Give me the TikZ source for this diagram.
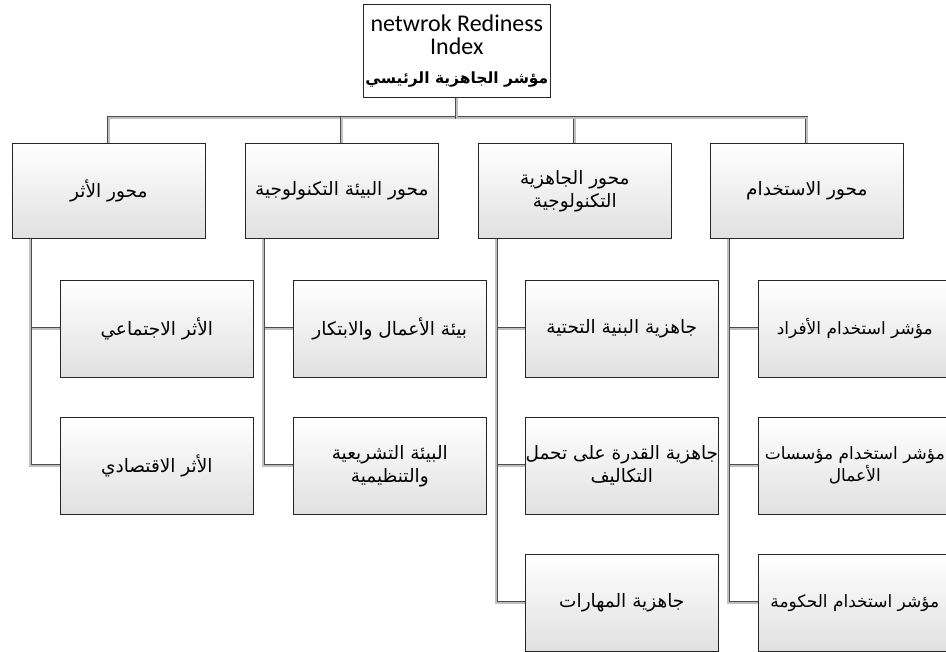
\documentclass[tikz,border=0pt]{standalone}
\usepackage{fontspec}
\newfontfamily\arabicfont[Script=Arabic]{DejaVu Sans}
\newfontfamily\latinfont{Carlito}
\TeXXeTstate=1
\newcommand{\artxt}[1]{{\arabicfont\beginR #1\endR}}

\tikzset{every picture/.style={line width=0.6pt}}
\tikzset{
  chartbox/.style={draw=black!85, anchor=north west, inner sep=0pt, align=center,
    minimum width=193pt, minimum height=97pt,
    top color=white, middle color=white, bottom color=black!12,
    font=\fontsize{18.5}{23}\selectfont},
  edgebox/.style={chartbox, font=\fontsize{17}{22}\selectfont},
  link/.style={draw=black!70, double=black!25, double distance=1.6pt, line width=0.7pt}
}

\begin{document}
\begin{tikzpicture}[x=1pt,y=1pt,yscale=-1,xscale=1]
\useasboundingbox (0,0) rectangle (946,652);
\clip (0,0) rectangle (946,652);

% Root Node
\node [draw=black!85, anchor=north west, inner sep=0pt, align=center, fill=white,
  minimum width=187pt, minimum height=93pt, font=\fontsize{24}{23}\selectfont] (root) at (363,4)
  {\latinfont netwrok Rediness\\ \latinfont Index\\[6pt] {\fontsize{15.5}{18}\selectfont\artxt{\bfseries مؤشر الجاهزية الرئيسي}}};

% Axis Nodes
\node [chartbox, minimum height=95pt] (axA) at (12,143) {\artxt{محور الأثر}};
\node [chartbox, minimum height=95pt] (axB) at (245,143) {\artxt{محور البيئة التكنولوجية}};
\node [chartbox, minimum height=95pt] (axC) at (478,143) {\artxt{محور الجاهزية}\\ \artxt{التكنولوجية}};
\node [chartbox, minimum height=95pt] (axD) at (710,143) {\artxt{محور الاستخدام}};

% Sub Nodes
\node [chartbox] (subA1) at (60,280) {\artxt{الأثر الاجتماعي}};
\node [chartbox] (subA2) at (60,417) {\artxt{الأثر الاقتصادي}};
\node [chartbox] (subB1) at (293,280) {\artxt{بيئة الأعمال والابتكار}};
\node [chartbox] (subB2) at (293,417) {\artxt{البيئة التشريعية}\\ \artxt{والتنظيمية}};
\node [chartbox] (subC1) at (525,280) {\artxt{جاهزية البنية التحتية}};
\node [chartbox] (subC2) at (525,417) {\artxt{جاهزية القدرة على تحمل}\\ \artxt{التكاليف}};
\node [chartbox] (subC3) at (525,554) {\artxt{جاهزية المهارات}};
\node [edgebox] (subD1) at (758,280) {\artxt{مؤشر استخدام الأفراد}};
\node [edgebox] (subD2) at (758,417) {\artxt{مؤشر استخدام مؤسسات}\\ \artxt{الأعمال}};
\node [edgebox] (subD3) at (758,554) {\artxt{مؤشر استخدام الحكومة}};

% Connectors
\coordinate (bus) at (460,118);
\foreach \n in {axA,axB,axC,axD}
  \draw [link] (root.south) -- (root.south |- bus) -| (\n.north);
\foreach \p/\c in {axA/subA1,axA/subA2,axB/subB1,axB/subB2,axC/subC1,axC/subC2,axC/subC3,axD/subD1,axD/subD2,axD/subD3}
  \draw [link] ([xshift=18pt]\p.south west) |- (\c.west);
\end{tikzpicture}
\end{document}
